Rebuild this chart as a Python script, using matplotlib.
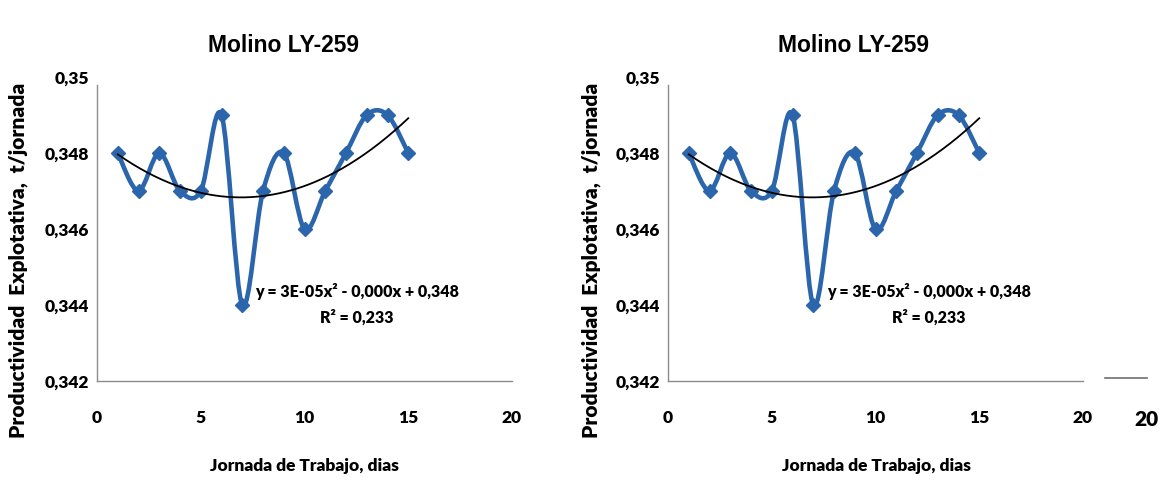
import numpy as np
import matplotlib
matplotlib.use("Agg")
import matplotlib.pyplot as plt
from matplotlib.path import Path
from matplotlib.patches import PathPatch

# data (both panels show the same series)
dias = [1, 2, 3, 4, 5, 6, 7, 8, 9, 10, 11, 12, 13, 14, 15]
productividad = [0.348, 0.347, 0.348, 0.347, 0.347, 0.349, 0.344, 0.347,
                 0.348, 0.346, 0.347, 0.348, 0.349, 0.349, 0.348]
y_ticks = [0.342, 0.344, 0.346, 0.348, 0.350]
y_ticklabels = ["0,342", "0,344", "0,346", "0,348", "0,35"]
x_ticks = [0, 5, 10, 15, 20]
x_ticklabels = ["0", "5", "10", "15", "20"]
titulo = "Molino LY-259"
ylabel = "Productividad  Explotativa,  t/jornada"
xlabel = "Jornada de Trabajo, dias"
ecuacion = "y = 3E-05x² - 0,000x + 0,348"
r2 = "R² = 0,233"

W, H = 1167, 493
BLUE = "#2b66ad"

plt.rcParams['font.family'] = ['Lato', 'DejaVu Sans']
TITLE_FONT = ['Liberation Sans', 'DejaVu Sans']


def px(x, y):
    return x / W, 1 - y / H


def smooth_path(xs, ys):
    # excel-like smoothed line: cubic bezier through the points
    p = np.column_stack([xs, ys]).astype(float)
    n = len(p)
    verts = [p[0]]
    codes = [Path.MOVETO]
    for i in range(n - 1):
        p0 = p[i - 1] if i > 0 else p[i]
        p3 = p[i + 2] if i + 2 < n else p[i + 1]
        c1 = p[i] + (p[i + 1] - p0) / 6
        c2 = p[i + 1] - (p3 - p[i]) / 6
        verts += [c1, c2, p[i + 1]]
        codes += [Path.CURVE4] * 3
    return Path(verts, codes)


fig = plt.figure(figsize=(W / 100, H / 100), dpi=100)

coef = np.polyfit(dias, productividad, 2)
xt = np.linspace(dias[0], dias[-1], 200)
yt = np.polyval(coef, xt)

panels = [(97, 283, 18, 355), (668, 853, 591, 927)]
for left, tx, lx, ex in panels:
    ax = fig.add_axes([left / W, 112 / H, 415 / W, 304 / H])
    ax.set_xlim(0, 20)
    ax.set_ylim(0.342, 0.350)

    ax.add_patch(PathPatch(smooth_path(dias, productividad), fill=False,
                           edgecolor=BLUE, lw=3.3, capstyle='round',
                           joinstyle='round', zorder=2))
    ax.plot(dias, productividad, linestyle='none', marker='D', ms=7.5,
            color=BLUE, zorder=3)
    ax.plot(xt, yt, color='black', lw=1.3, zorder=4)

    for s in ['top', 'right']:
        ax.spines[s].set_visible(False)
    for s in ['left', 'bottom']:
        ax.spines[s].set_color('#8c8c8c')
        ax.spines[s].set_linewidth(1.0)
    ax.spines['left'].set_bounds(0.342, 0.3498)

    ax.set_yticks(y_ticks, labels=y_ticklabels, fontweight='heavy',
                  fontsize=12.5)
    ax.set_xticks(x_ticks, labels=x_ticklabels, fontweight='heavy',
                  fontsize=12.5)
    ax.tick_params(length=0)
    ax.tick_params(axis='y', pad=6)
    ax.tick_params(axis='x', pad=21)

    fig.text(*px(tx, 45), titulo, ha='center', va='center',
             fontsize=16.5, fontweight='bold', family=TITLE_FONT)
    fig.text(*px(lx, 260), ylabel, ha='center', va='center',
             rotation=90, fontsize=15, fontweight='heavy')
    fig.text(*px(left + 208, 466), xlabel, ha='center', va='center',
             fontsize=12.5, fontweight='heavy')
    fig.text(*px(ex + 2, 291), ecuacion, ha='center', va='center',
             fontsize=11.5, fontweight='heavy')
    fig.text(*px(ex + 2, 318), r2, ha='center', va='center',
             fontsize=11.5, fontweight='heavy')

# stray bits at the right edge of the reference
fig.add_artist(plt.Line2D([1105 / W, 1147 / W], [1 - 378 / H, 1 - 378 / H],
                          color='#6e6e6e', lw=1.2))
fig.text(*px(1146, 420), "20", ha='center', va='center',
         fontsize=15, fontweight='heavy')

fig.savefig("out.png", dpi=100, facecolor='white')
